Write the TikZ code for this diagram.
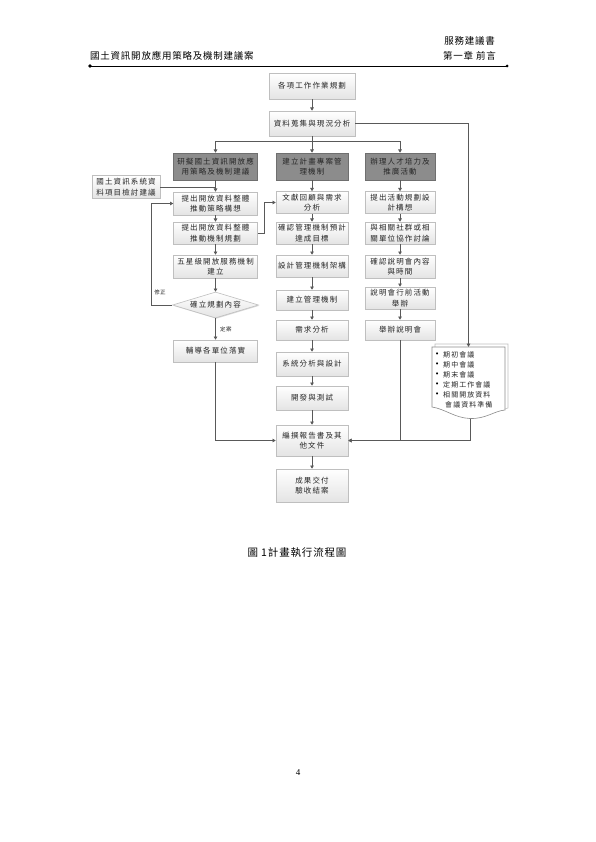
\documentclass[tikz,border=0pt]{standalone}
\usepackage{fontspec}
\setmainfont{Liberation Serif}
\newfontfamily\cjk[LetterSpace=15]{Noto Sans CJK TC}
\newfontfamily\cjkh[LetterSpace=8]{Noto Sans CJK TC}
\newfontfamily\symfont{DejaVu Sans}
\usetikzlibrary{shapes.geometric,arrows.meta,shadows}
\definecolor{boxline}{HTML}{BFBFBF}
\definecolor{boxbot}{HTML}{E4E4E4}
\definecolor{darkfill}{HTML}{8C8C8C}
\definecolor{darkline}{HTML}{6F6F6F}
\definecolor{arrcol}{HTML}{595959}
\definecolor{txt}{HTML}{262626}
\tikzset{
  boxfont/.style={font=\cjk\fontsize{7.5}{10.5}\selectfont, text=txt},
  pbox/.style={boxfont, draw=boxline, line width=0.6pt, top color=white, bottom color=boxbot,
    align=center, inner sep=1pt,
    drop shadow={shadow xshift=0.8pt, shadow yshift=-0.8pt, fill=black!30, opacity=0.5}},
  dbox/.style={boxfont, draw=darkline, line width=0.6pt, fill=darkfill, align=center, inner sep=1pt,
    drop shadow={shadow xshift=0.8pt, shadow yshift=-0.8pt, fill=black!30, opacity=0.5}},
  colL/.style={minimum width=84pt},
  colM/.style={minimum width=72pt},
  colR/.style={minimum width=70pt},
  arr/.style={draw=arrcol, line width=0.7pt, -{Triangle[width=3.6pt,length=3.2pt]}},
  ln/.style={draw=arrcol, line width=0.7pt},
  smalllab/.style={font=\cjkh\fontsize{5.5}{6}\selectfont, text=txt},
  doctext/.style={font=\cjk\fontsize{7}{9}\selectfont, text=txt, anchor=west, inner sep=0pt},
  bullet/.style={font=\symfont\fontsize{7}{9}\selectfont, text=black, anchor=west, inner sep=0pt}
}
\begin{document}
\begin{tikzpicture}[x=1pt, y=-1pt]
\fill[white] (0,0) rectangle (595,842);
\useasboundingbox (0,0) rectangle (595,842);

% header
\node[anchor=base west, font=\cjkh\fontsize{9.5}{11}\selectfont, inner sep=0] (h1) at (90,60) {國土資訊開放應用策略及機制建議案};
\node[anchor=base east, font=\cjkh\fontsize{9.5}{11}\selectfont, inner sep=0] (h2) at (495,45) {服務建議書};
\node[anchor=base east, font=\cjkh\fontsize{9.5}{11}\selectfont, inner sep=0] (h3) at (496,60) {第一章 前言};
\coordinate (hl) at (90,66);
\coordinate (hr) at (507,66);
\draw[line width=0.8pt] (hl) -- (hr);
\fill (hl) circle (1.8pt);
\fill (hr) circle (1.5pt);

% top
\node[pbox, minimum width=86pt, minimum height=26pt] (t1) at (312,86) {各項工作作業規劃};
\node[pbox, minimum width=86pt, minimum height=25pt] (t2) at (312,123.5) {資料蒐集與現況分析};

% dark headers
\node[dbox, colL, minimum height=27pt] (dL) at (215.5,166.5) {研擬國土資訊開放應\\用策略及機制建議};
\node[dbox, colM, minimum height=27pt] (dM) at (312,166.5) {建立計畫專案管\\理機制};
\node[dbox, colR, minimum height=27pt] (dR) at (400,166.5) {辦理人才培力及\\推廣活動};

% side box
\node[pbox, minimum width=68pt, minimum height=23pt] (side) at (126,187) {國土資訊系統資\\料項目檢討建議};

% left column
\node[pbox, colL, minimum height=23pt] (L1) at (215.5,203.5) {提出開放資料整體\\推動策略構想};
\node[pbox, colL, minimum height=22pt] (L2) at (215.5,233) {提出開放資料整體\\推動機制規劃};
\node[pbox, colL, minimum height=23pt] (L3) at (215.5,266.5) {五星級開放服務機制\\建立};
\node[boxfont, diamond, aspect=3.4, draw=boxline, line width=0.6pt, top color=white, bottom color=boxbot,
  inner sep=0pt, minimum width=86pt, minimum height=26pt,
  drop shadow={shadow xshift=0.8pt, shadow yshift=-0.8pt, fill=black!30, opacity=0.5}] (dia) at (215.5,305) {確立規劃內容};
\node[pbox, colL, minimum height=22pt] (L4) at (215.5,351) {輔導各單位落實};

% middle column
\node[pbox, colM, minimum height=22pt] (M1) at (312,202.5) {文獻回顧與需求\\分析};
\node[pbox, colM, minimum height=22pt] (M2) at (312,233) {確認管理機制預計\\達成目標};
\node[pbox, colM, minimum height=22pt] (M3) at (312,266) {設計管理機制架構};
\node[pbox, colM, minimum height=20pt] (M4) at (312,300) {建立管理機制};
\node[pbox, colM, minimum height=20pt] (M5) at (312,330) {需求分析};
\node[pbox, colM, minimum height=24pt] (M6) at (312,364) {系統分析與設計};
\node[pbox, colM, minimum height=24pt] (M7) at (312,398) {開發與測試};
\node[pbox, colM, minimum height=31pt] (M8) at (312,440.5) {編撰報告書及其\\他文件};
\node[pbox, colM, minimum height=33pt] (M9) at (312,485.5) {成果交付\\驗收結案};

% right column
\node[pbox, colR, minimum height=22pt] (R1) at (400,202.5) {提出活動規劃設\\計構想};
\node[pbox, colR, minimum height=22pt] (R2) at (400,233) {與相關社群或相\\關單位協作討論};
\node[pbox, colR, minimum height=23pt] (R3) at (400,266.5) {確認說明會內容\\與時間};
\node[pbox, colR, minimum height=22pt] (R4) at (400,298) {說明會行前活動\\舉辦};
\node[pbox, colR, minimum height=20pt] (R5) at (400,330) {舉辦說明會};

% document shape
\node[inner sep=0pt, minimum width=73pt, minimum height=64pt] (doc) at (468.5,379) {};
\draw[boxline, line width=0.6pt, fill=white] (435,347) -- (435,344) -- (508,344) -- (508,408) -- (505,409);
\draw[arrcol!70, line width=0.6pt, fill=white] (432,347) -- (505,347) -- (505,410)
  .. controls (494,411) and (486,419) .. (470,418.5)
  .. controls (455,418) and (445,409) .. (432,407) -- cycle;
\coordinate (docb) at (470,418.5);
\node[bullet] (b1) at (435,355) {•};
\node[bullet] (b2) at (435,365) {•};
\node[bullet] (b3) at (435,375) {•};
\node[bullet] (b4) at (435,385) {•};
\node[bullet] (b5) at (435,395) {•};
\node[doctext] (d1) at (443,355) {期初會議};
\node[doctext] (d2) at (443,365) {期中會議};
\node[doctext] (d3) at (443,375) {期末會議};
\node[doctext] (d4) at (443,385) {定期工作會議};
\node[doctext] (d5) at (443,395) {相關開放資料};
\node[doctext] (d6) at (445,404.5) {會議資料準備};

% connectors
\draw[arr] (t1) -- (t2);
\coordinate (br) at (312,141);
\draw[arr] (t2.south) -- (dM.north);
\draw[arr] (br) -| (dL.north);
\draw[arr] (br) -| (dR.north);
\draw[arr] (t2.east) -| (doc.north);

\draw[arr] (dL) -- (L1);
\draw[ln] (side.east) -- (side.east -| L1.north);
\draw[arr] (L1) -- (L2);
\draw[arr] (L2) -- (L3);
\draw[arr] (L3) -- (dia);
\draw[arr] (dia) -- (L4) node[pos=0.5, right, smalllab, xshift=1pt] (lab2) {定案};
\draw[arr] (dia.west) -- ++(-21,0) |- (L1.west);
\node[smalllab] (lab1) at (160,292) {修正};
\draw[arr] (L2.east) -- ++(7,0) |- (M1.west);
\draw[arr] (L4.south) |- (M8.west);

\draw[arr] (dM) -- (M1);
\draw[arr] (M1) -- (M2);
\draw[arr] (M2) -- (M3);
\draw[arr] (M3) -- (M4);
\draw[arr] (M4) -- (M5);
\draw[arr] (M5) -- (M6);
\draw[arr] (M6) -- (M7);
\draw[arr] (M7) -- (M8);
\draw[arr] (M8) -- (M9);

\draw[arr] (dR) -- (R1);
\draw[arr] (R1) -- (R2);
\draw[arr] (R2) -- (R3);
\draw[arr] (R3) -- (R4);
\draw[arr] (R4) -- (R5);
\draw[arr] (R5.south) |- (M8.east);
\draw[arr] (docb) |- (M8.east);

% caption and page number
\node[font=\cjkh\fontsize{10.5}{12}\selectfont] (cap) at (297,553) {圖 1計畫執行流程圖};
\node[font=\fontsize{9}{10}\selectfont] (pg) at (298,773) {4};
\end{tikzpicture}
\end{document}
